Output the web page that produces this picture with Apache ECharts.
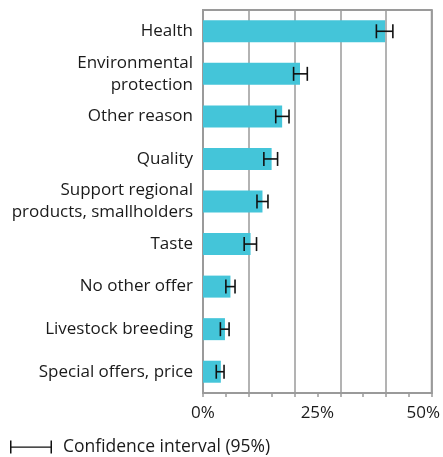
<!DOCTYPE html>
<html><head><meta charset="utf-8">
<script src="https://cdn.jsdelivr.net/npm/echarts@6/dist/echarts.min.js"></script>
<style>html,body{margin:0;padding:0;background:#fff}#c{width:443px;height:457px}</style>
</head><body><div id="c"></div>
<script>
const categories = ["Health", "Environmental\nprotection", "Other reason", "Quality", "Support regional\nproducts, smallholders", "Taste", "No other offer", "Livestock breeding", "Special offers, price"];
const values = [39.8, 21.2, 17.3, 15.0, 13.0, 10.4, 6.0, 4.8, 3.9];
const ciLow = [37.9, 19.8, 15.9, 13.3, 11.8, 9.0, 5.0, 3.8, 2.9];
const ciHigh = [41.5, 22.8, 18.8, 16.3, 14.2, 11.7, 7.0, 5.7, 4.6];
const xTickLabels = ["0%", "25%", "50%"];
const legendLabel = "Confidence interval (95%)";

const FONT = "Open Sans";
const FS = 17;
const chart = echarts.init(document.getElementById('c'), null, {renderer: 'canvas'});
const ciData = ciLow.map((l, i) => [l, ciHigh[i], i]);
chart.setOption({
  animation: false,
  textStyle: {fontFamily: FONT},
  grid: {left: 203, right: 10, top: 10, bottom: 64, show: true, borderColor: '#9a9a9a', borderWidth: 2, containLabel: false},
  legend: {
    left: 10, bottom: 1, padding: 0, itemWidth: 42, itemHeight: 13, itemGap: 10,
    data: [{name: legendLabel, icon: 'path://M0,0h1.5v13h-1.5z M0,6h42v1.3h-42z M40.5,0h1.5v13h-1.5z'}],
    textStyle: {fontSize: 17.5, color: '#1a1a1a', fontFamily: FONT, padding: [0,0,0,6]}
  },
  xAxis: [{
    type: 'value', min: 0, max: 50, interval: 5,
    axisLine: {show: true, lineStyle: {color: '#9a9a9a', width: 2}},
    axisTick: {show: true, length: 4, lineStyle: {color: '#9a9a9a', width: 1.5}},
    splitLine: {show: false},
    axisLabel: {
      fontSize: FS, color: '#1a1a1a', margin: 12,
      formatter: function (v) {
        const idx = [0, 25, 50].indexOf(v);
        if (idx < 0) return '';
        if (v === 50) return '{r|' + xTickLabels[idx] + '}';
        return xTickLabels[idx];
      },
      rich: {r: {fontSize: FS, color: '#1a1a1a', fontFamily: FONT, padding: [0, 17, 0, 0]}}
    }
  }, {
    type: 'value', min: 0, max: 50, interval: 10, position: 'bottom',
    axisLine: {show: false}, axisTick: {show: false}, axisLabel: {show: false},
    splitLine: {show: true, lineStyle: {color: '#9a9a9a', width: 1.5}}
  }],
  yAxis: {
    type: 'category', data: categories, inverse: true,
    axisLine: {show: true, lineStyle: {color: '#9a9a9a', width: 2}},
    axisTick: {show: false},
    axisLabel: {fontSize: FS, color: '#1a1a1a', margin: 10, lineHeight: 22, align: 'right'}
  },
  series: [{
    type: 'bar', data: values, barWidth: 22, z: 2,
    itemStyle: {color: '#44C5D9'}
  }, {
    name: legendLabel,
    type: 'custom', data: ciData, z: 5,
    itemStyle: {color: '#111'},
    renderItem: function (params, api) {
      const lo = api.coord([api.value(0), api.value(2)]);
      const hi = api.coord([api.value(1), api.value(2)]);
      const h = 7;
      const st = {stroke: '#111', lineWidth: 1.6};
      return {type: 'group', children: [
        {type: 'line', shape: {x1: lo[0], y1: lo[1], x2: hi[0], y2: hi[1]}, style: st},
        {type: 'line', shape: {x1: lo[0], y1: lo[1] - h, x2: lo[0], y2: lo[1] + h}, style: st},
        {type: 'line', shape: {x1: hi[0], y1: hi[1] - h, x2: hi[0], y2: hi[1] + h}, style: st}
      ]};
    },
    encode: {x: [0, 1], y: 2}
  }]
});
</script></body></html>
